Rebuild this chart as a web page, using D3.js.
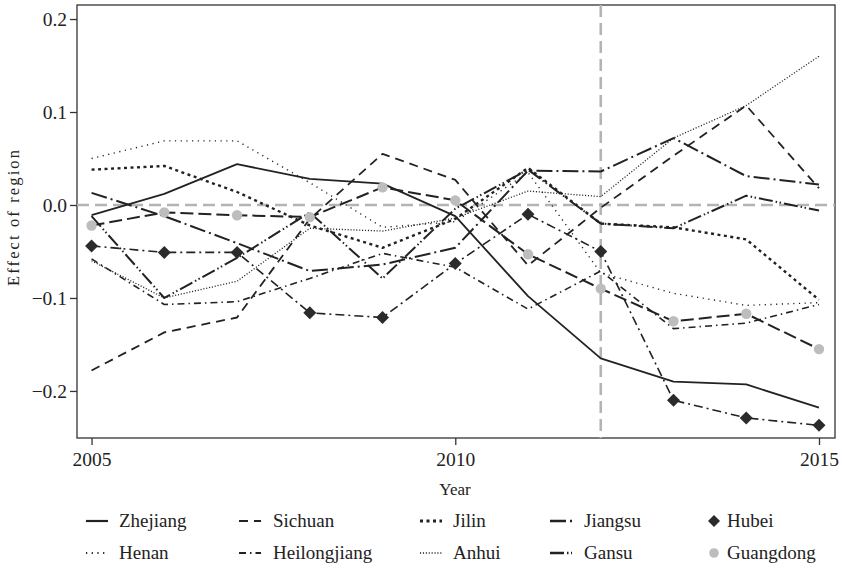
<!DOCTYPE html>
<html>
<head>
<meta charset="utf-8">
<script src="https://cdn.jsdelivr.net/npm/d3@7"></script>
<style>
  html, body { margin: 0; padding: 0; background: #fff; }
  svg { display: block; }
  text { font-family: "Liberation Serif", "DejaVu Serif", serif; fill: #222; }
</style>
</head>
<body>
<svg id="chart" width="842" height="570"></svg>
<script>
// ---------- data ----------
const years = [2005, 2006, 2007, 2008, 2009, 2010, 2011, 2012, 2013, 2014, 2015];
const zhejiang     = [-0.011, 0.012, 0.044, 0.028, 0.023, -0.012, -0.098, -0.165, -0.190, -0.193, -0.218];
const sichuan      = [-0.178, -0.137, -0.121, -0.015, 0.055, 0.027, -0.065, -0.003, 0.053, 0.107, 0.018];
const jilin        = [0.038, 0.042, 0.014, -0.022, -0.046, -0.015, 0.040, -0.020, -0.024, -0.037, -0.102];
const jiangsu      = [0.013, -0.012, -0.041, -0.071, -0.064, -0.046, 0.037, 0.036, 0.072, 0.031, 0.022];
const hubei        = [-0.044, -0.051, -0.051, -0.116, -0.121, -0.063, -0.010, -0.050, -0.210, -0.229, -0.237];
const henan        = [0.050, 0.069, 0.069, 0.024, -0.024, -0.018, 0.035, -0.073, -0.095, -0.108, -0.105];
const heilongjiang = [-0.058, -0.107, -0.104, -0.079, -0.052, -0.067, -0.112, -0.071, -0.133, -0.127, -0.107];
const anhui        = [-0.060, -0.100, -0.082, -0.025, -0.028, -0.014, 0.015, 0.009, 0.072, 0.107, 0.160];
const gansu        = [-0.012, -0.100, -0.057, -0.008, -0.079, -0.004, 0.038, -0.020, -0.025, 0.010, -0.006];
const guangdong    = [-0.022, -0.008, -0.011, -0.013, 0.019, 0.005, -0.053, -0.090, -0.125, -0.117, -0.155];

const seriesNames = ["Zhejiang", "Sichuan", "Jilin", "Jiangsu", "Hubei",
                     "Henan", "Heilongjiang", "Anhui", "Gansu", "Guangdong"];
const seriesValues = [zhejiang, sichuan, jilin, jiangsu, hubei,
                      henan, heilongjiang, anhui, gansu, guangdong];
const xTicks = [2005, 2010, 2015];
const yTicks = [-0.2, -0.1, 0.0, 0.1, 0.2];
const policyYear = 2012;

// ---------- styles ----------
const styleMap = {
  Zhejiang:     {dash: null,              w: 1.8, legend: "line"},
  Sichuan:      {dash: "9 6",             w: 1.8, legend: "line"},
  Jilin:        {dash: "3 3.5",           w: 2.4, legend: "line"},
  Jiangsu:      {dash: "16 4 2 4",        w: 2.0, legend: "line"},
  Hubei:        {dash: "9 4 2 4",         w: 1.6, legend: "diamond"},
  Henan:        {dash: "1.2 4.5",         w: 1.4, legend: "line"},
  Heilongjiang: {dash: "7 4 1.5 4",       w: 1.6, legend: "line"},
  Anhui:        {dash: "1.1 1.8",         w: 1.3, legend: "line"},
  Gansu:        {dash: "14 3 1.5 2.5 1.5 3", w: 2.0, legend: "line"},
  Guangdong:    {dash: "13 5",            w: 2.0, legend: "circle"}
};
const ink = "#222";
const gray = "#b4b4b4";

// ---------- scales ----------
const svg = d3.select("#chart");
const x = d3.scaleLinear().domain([2004.8, 2015.22]).range([77, 835]);
const y = d3.scaleLinear().domain([-0.2506, 0.2151]).range([438, 5]);

// panel border
svg.append("rect")
  .attr("x", x.range()[0]).attr("y", y.range()[1])
  .attr("width", x.range()[1] - x.range()[0])
  .attr("height", y.range()[0] - y.range()[1])
  .attr("fill", "none").attr("stroke", "#333").attr("stroke-width", 1.3);

// reference lines
svg.append("line")
  .attr("x1", x.range()[0]).attr("x2", x.range()[1])
  .attr("y1", y(0)).attr("y2", y(0))
  .attr("stroke", gray).attr("stroke-width", 2.6).attr("stroke-dasharray", "12 6");
svg.append("line")
  .attr("x1", x(policyYear)).attr("x2", x(policyYear))
  .attr("y1", y.range()[1]).attr("y2", y.range()[0])
  .attr("stroke", gray).attr("stroke-width", 2.6).attr("stroke-dasharray", "12 6");

// axes
const fmtY = d => (d === 0 ? "0.0" : d3.format(".1f")(d)).replace("-", "\u2212");
const yAxis = svg.append("g").attr("transform", `translate(${x.range()[0]},0)`)
  .call(d3.axisLeft(y).tickValues(yTicks).tickFormat(fmtY).tickSize(7).tickPadding(3));
const xAxis = svg.append("g").attr("transform", `translate(0,${y.range()[0]})`)
  .call(d3.axisBottom(x).tickValues(xTicks).tickFormat(d3.format("d")).tickSize(7).tickPadding(7));
[yAxis, xAxis].forEach(g => {
  g.select(".domain").remove();
  g.selectAll(".tick line").attr("stroke", "#333").attr("stroke-width", 1.3);
  g.selectAll(".tick text").style("font-size", "19.5px").attr("fill", ink);
});

// axis titles
svg.append("text").attr("x", 455).attr("y", 495).attr("text-anchor", "middle")
  .style("font-size", "17px").text("Year");
svg.append("text").attr("transform", "translate(19,218) rotate(-90)")
  .attr("text-anchor", "middle").style("font-size", "16.5px")
  .attr("textLength", 136).attr("lengthAdjust", "spacing")
  .text("Effect of region");

// lines
const line = d3.line().x((d, i) => x(years[i])).y(d => y(d));
const plotOrder = ["Henan", "Anhui", "Jilin", "Heilongjiang", "Gansu", "Jiangsu", "Sichuan", "Zhejiang", "Hubei", "Guangdong"];
plotOrder.forEach(name => {
  const vals = seriesValues[seriesNames.indexOf(name)];
  const st = styleMap[name];
  svg.append("path").datum(vals).attr("d", line)
    .attr("fill", "none").attr("stroke", ink).attr("stroke-width", st.w)
    .attr("stroke-dasharray", st.dash).attr("stroke-linejoin", "round");
});

// points
const diamond = (cx, cy, r) => `M${cx},${cy - r}L${cx + r},${cy}L${cx},${cy + r}L${cx - r},${cy}Z`;
svg.append("g").selectAll("path").data(hubei).join("path")
  .attr("d", (d, i) => diamond(x(years[i]), y(d), 6.5)).attr("fill", "#2b2b2b");
svg.append("g").selectAll("circle").data(guangdong).join("circle")
  .attr("cx", (d, i) => x(years[i])).attr("cy", d => y(d)).attr("r", 5.2).attr("fill", "#bdbdbd");

// legend
const legCols = [86, 239, 420, 550, 703];
const legTextX = [119, 273, 453, 584, 727];
const legRows = [521, 553];
seriesNames.forEach((name, k) => {
  const col = k % 5, row = Math.floor(k / 5);
  const st = styleMap[name];
  const g = svg.append("g");
  const cy = legRows[row];
  if (st.legend === "line") {
    g.append("line").attr("x1", legCols[col]).attr("x2", legCols[col] + 22)
      .attr("y1", cy).attr("y2", cy)
      .attr("stroke", ink).attr("stroke-width", st.w + 0.4).attr("stroke-dasharray", st.dash);
  } else if (st.legend === "diamond") {
    g.append("path").attr("d", diamond(legCols[col] + 11, cy, 6)).attr("fill", "#2b2b2b");
  } else {
    g.append("circle").attr("cx", legCols[col] + 11).attr("cy", cy).attr("r", 4.8).attr("fill", "#bdbdbd");
  }
  g.append("text").attr("x", legTextX[k % 5]).attr("y", cy + 6).style("font-size", "19px").text(name);
});
</script>
</body>
</html>
